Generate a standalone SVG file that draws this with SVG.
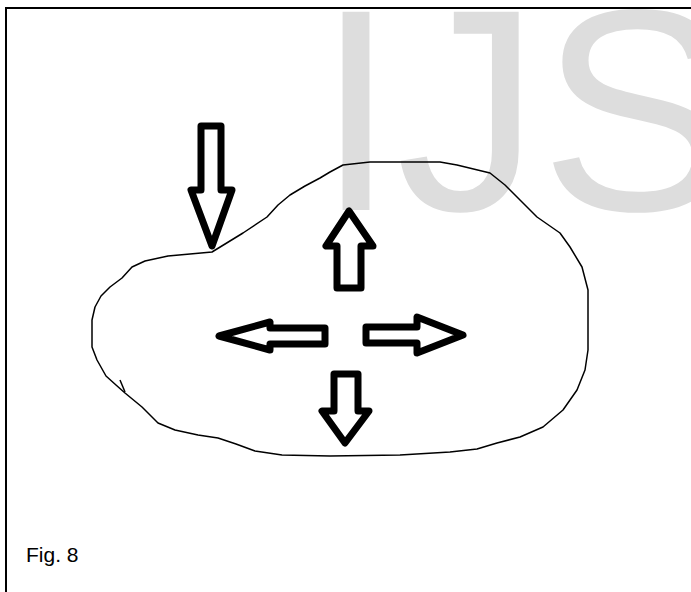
<svg xmlns="http://www.w3.org/2000/svg" width="691" height="592" viewBox="0 0 691 592">
<style>
.arrow{fill:#fff;stroke:#000;stroke-width:7;stroke-linejoin:round}
.blob{fill:none;stroke:#000;stroke-width:1.5;stroke-linejoin:round}
.wm{font-family:"Liberation Sans",Arial,sans-serif;font-size:288px;fill:#dddddd}
.cap{font-family:"Liberation Sans",Arial,sans-serif;font-size:21px;fill:#000}
</style>
<rect width="691" height="592" fill="#fff"/>
<text class="wm" x="316" y="210">IJS</text>
<g id="frame">
<path d="M6,592 V8 H691" fill="none" stroke="#000" stroke-width="2"/>
</g>
<g id="region">
<path class="blob" d="M212,252 L190,254 L168,256 L145,261 L132,267 L122,278 L110,287 L101,296 L95,307 L92,320 L92,347 L97,360 L106,376 L116,385 L125,393 L142,407 L158,423 L175,430 L198,435 L218,438 L236,444 L255,451 L282,455 L330,456 L400,455 L450,452 L477,449 L497,443 L520,437 L543,427 L563,410 L577,390 L585,370 L588,350 L588,290 L582,267 L570,247 L560,233 L537,217 L520,200 L505,185 L490,173 L457,165 L440,162 L370,162 L343,165 L330,172 L320,178 L305,186 L290,195 L278,205 L267,217 L243,233 Z"/>
<path class="blob" d="M120,380 L125,392"/>
</g>
<g id="arrows">
<g id="arrow-in"><polygon class="arrow" points="201,126 221,126 221,190 232,190 212,246 191,190 201,190"/></g>
<g id="arrow-up"><polygon class="arrow" points="337,288 361,288 361,246 373,246 349,211 326,246 337,246"/></g>
<g id="arrow-left"><polygon class="arrow" points="325,328 325,344 270,344 270,350 219,336 270,322 270,328"/></g>
<g id="arrow-right"><polygon class="arrow" points="366,327 366,343 417,343 417,353 463,335 417,317 417,327"/></g>
<g id="arrow-down"><polygon class="arrow" points="334,374 358,374 358,411 369,411 345,443 322,411 334,411"/></g>
</g>
<g id="caption"><text class="cap" x="26" y="562">Fig. 8</text></g>
</svg>
